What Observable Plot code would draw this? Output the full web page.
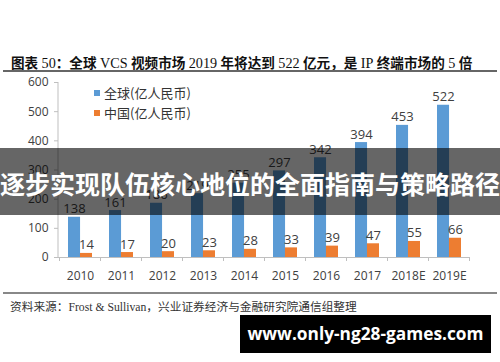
<!DOCTYPE html>
<html>
<head>
<meta charset="utf-8">
<script src="https://cdn.jsdelivr.net/npm/d3@7"></script>
<script src="https://cdn.jsdelivr.net/npm/@observablehq/plot@0.6"></script>
<style>
  html, body { margin: 0; padding: 0; background: #fff; }
  #wrap { position: relative; width: 500px; height: 362px; overflow: hidden; background: #fff; }
  #title { position: absolute; left: 11px; top: 52px; font-family: "Liberation Serif", "Noto Sans CJK SC", serif; font-size: 13.6px; font-weight: 700; color: #111; white-space: nowrap; }
  #title .l { font-weight: 400; font-size: 14.2px; }
  .hr { position: absolute; left: 3px; width: 494px; height: 2px; background: #666; }
  #chart { position: absolute; left: 0; top: 72px; }
  #legend { position: absolute; left: 94px; top: 83px; font-family: "Noto Sans CJK SC", sans-serif; font-size: 13px; color: #333; line-height: 20px; }
  #legend .sw { display: inline-block; width: 6px; height: 6px; margin-right: 4px; vertical-align: 2px; }
  #source { position: absolute; left: 10px; top: 297px; font-family: "Liberation Serif", "Noto Sans CJK SC", serif; font-size: 11.7px; color: #333; white-space: nowrap; }
  #banner { position: absolute; left: 0; top: 148px; width: 500px; height: 67px; background: rgba(0,0,0,0.6); }
  #banner span { position: absolute; left: 0; width: 500px; top: 20px; text-align: center; font-family: "Noto Sans CJK SC", sans-serif; font-weight: 700; font-size: 25px; line-height: 30px; color: #fff; white-space: nowrap; }
  #wm { position: absolute; left: 240px; top: 315px; width: 251px; height: 38px; background: #000; color: #fff; font-family: "Open Sans", sans-serif; font-weight: 700; font-size: 17.3px; line-height: 38px; text-align: center; white-space: nowrap; }
</style>
</head>
<body>
<div id="wrap">
  <div id="title">图表 <span class="l">50</span>：全球 <span class="l">VCS</span> 视频市场 <span class="l">2019</span> 年将达到 <span class="l">522</span> 亿元，是 <span class="l">IP</span> 终端市场的 <span class="l">5</span> 倍</div>
  <div class="hr" style="top:70px"></div>
  <div id="chart"></div>
  <div id="legend"></div>
  <div class="hr" style="top:292px; background:#888"></div>
  <div id="source">资料来源：Frost &amp; Sullivan，兴业证券经济与金融研究院通信组整理</div>
  <div id="banner"><span>逐步实现队伍核心地位的全面指南与策略路径</span></div>
  <div id="wm">www.only-ng28-games.com</div>
</div>
<script>
const years = ["2010","2011","2012","2013","2014","2015","2016","2017","2018E","2019E"];
const globalValues = [138, 161, 186, 219, 255, 297, 342, 394, 453, 522];
const chinaValues = [14, 17, 20, 23, 28, 33, 39, 47, 55, 66];
const seriesNames = ["全球(亿人民币)", "中国(亿人民币)"];
const seriesColors = ["#5B9BD5", "#ED7D31"];
const yTicks = [0, 100, 200, 300, 400, 500, 600];

const rows = years.map((y, i) => ({year: y, global: globalValues[i], china: chinaValues[i]}));

const W = 500, H = 220, ML = 58, MR = 30, MT = 10, MB = 35;
const halfBand = (W - ML - MR) / years.length * (1 - 0.42) / 2;

const plot = Plot.plot({
  width: W, height: H,
  marginLeft: ML, marginRight: MR, marginTop: MT, marginBottom: MB,
  style: {fontFamily: "'Open Sans', sans-serif", fontSize: "12px", color: "#404040", background: "transparent"},
  x: {domain: years, paddingInner: 0.42, paddingOuter: 0.21, label: null, tickSize: 0, tickPadding: 14},
  y: {domain: [0, 600], ticks: yTicks, label: null, tickSize: 4, tickPadding: 6},
  marks: [
    Plot.barY(rows, {x: "year", y: "global", fill: seriesColors[0], insetRight: halfBand}),
    Plot.barY(rows, {x: "year", y: "china", fill: seriesColors[1], insetLeft: halfBand}),
    Plot.text(rows, {x: "year", y: "global", text: d => String(d.global), dx: -halfBand / 2, dy: -4, lineAnchor: "bottom", fontSize: 13, fill: "#404040"}),
    Plot.text(rows, {x: "year", y: "china", text: d => String(d.china), dx: halfBand / 2, dy: -4, lineAnchor: "bottom", fontSize: 13, fill: "#404040"}),
    Plot.ruleY([0], {stroke: "#bfbfbf"})
  ]
});
document.getElementById("chart").appendChild(plot);

// axis lines and category boundary ticks from the library's scales
const xs = plot.scale("x"), ys = plot.scale("y");
const svg = d3.select(plot);
const y0 = ys.apply(0), yTop = ys.apply(600);
svg.append("line").attr("x1", ML).attr("x2", ML).attr("y1", yTop).attr("y2", y0).attr("stroke", "#bfbfbf");
svg.select("g[aria-label='y-axis tick']").attr("stroke", "#bfbfbf");
const gap = (xs.step - xs.bandwidth) / 2;
const bounds = years.map(y => xs.apply(y) - gap).concat([xs.apply(years[years.length - 1]) + xs.bandwidth + gap]);
svg.append("g").selectAll("line").data(bounds).join("line")
  .attr("x1", d => d).attr("x2", d => d).attr("y1", y0).attr("y2", y0 + 4).attr("stroke", "#bfbfbf");

// legend
const lg = d3.select("#legend");
seriesNames.forEach((n, i) => {
  const row = lg.append("div");
  row.append("span").attr("class", "sw").style("background", seriesColors[i]);
  row.append("span").text(n);
});
</script>
</body>
</html>
